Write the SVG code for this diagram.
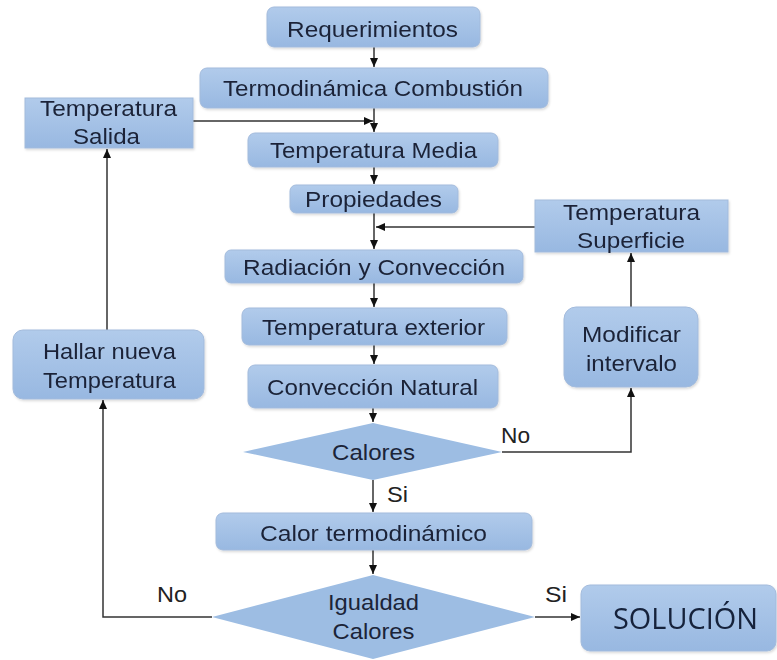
<svg xmlns="http://www.w3.org/2000/svg" width="777" height="660" viewBox="0 0 777 660">
<style>
.box{fill:url(#g);stroke:#a3bbdc;stroke-width:1}
.dia{fill:#9dbde3}
.t{font-family:"Liberation Sans",Arial,sans-serif;font-size:22px;fill:#1b2438;text-anchor:middle}
.lbl{font-family:"Liberation Sans",Arial,sans-serif;font-size:22px;fill:#222;text-anchor:middle}
.sol{font-family:"Open Sans","Liberation Sans",sans-serif;font-size:30px;fill:#14213a;text-anchor:middle}
.c{fill:none;stroke:#333;stroke-width:1.5}
</style>
<defs>
<linearGradient id="g" x1="0" y1="0" x2="0" y2="1">
<stop offset="0" stop-color="#b1cbeb"/>
<stop offset="1" stop-color="#98b8e1"/>
</linearGradient>
<filter id="sh" x="-5%" y="-10%" width="110%" height="130%">
<feDropShadow dx="1" dy="1.5" stdDeviation="1" flood-color="#000" flood-opacity="0.15"/>
</filter>
<marker id="a" markerUnits="userSpaceOnUse" markerWidth="10" markerHeight="10" viewBox="0 0 10 10" refX="9" refY="5" orient="auto">
<path d="M0,1 L9,5 L0,9 Z" fill="#111"/>
</marker>
</defs>

<g id="connectors">
<path class="c" d="M374,47 V67" marker-end="url(#a)"/>
<path class="c" d="M374,108 V132" marker-end="url(#a)"/>
<path class="c" d="M193,121 H373" marker-end="url(#a)"/>
<path class="c" d="M374,167 V184" marker-end="url(#a)"/>
<path class="c" d="M374,213 V249" marker-end="url(#a)"/>
<path class="c" d="M535,227 H376" marker-end="url(#a)"/>
<path class="c" d="M374,283 V307" marker-end="url(#a)"/>
<path class="c" d="M374,345 V364" marker-end="url(#a)"/>
<path class="c" d="M373,408 V422" marker-end="url(#a)"/>
<path class="c" d="M373,480 V512" marker-end="url(#a)"/>
<path class="c" d="M502,452 H631 V388" marker-end="url(#a)"/>
<path class="c" d="M631,307 V253" marker-end="url(#a)"/>
<path class="c" d="M373,550 V574" marker-end="url(#a)"/>
<path class="c" d="M212,617 H103 V400" marker-end="url(#a)"/>
<path class="c" d="M107,330 V149" marker-end="url(#a)"/>
<path class="c" d="M535,617 H580" marker-end="url(#a)"/>
</g>

<g id="requerimientos" filter="url(#sh)">
<rect class="box" x="267" y="7" width="213" height="40" rx="7"/>
<text class="t" x="372.5" y="37" textLength="171" lengthAdjust="spacingAndGlyphs">Requerimientos</text>
</g>
<g id="termodinamica" filter="url(#sh)">
<rect class="box" x="200" y="68" width="348" height="40" rx="7"/>
<text class="t" x="373" y="96" textLength="300" lengthAdjust="spacingAndGlyphs">Termodinámica Combustión</text>
</g>
<g id="temperatura-salida" filter="url(#sh)">
<rect class="box" x="25" y="98" width="168" height="50"/>
<text class="t" x="108.5" y="116" textLength="137" lengthAdjust="spacingAndGlyphs">Temperatura</text>
<text class="t" x="106.5" y="144" textLength="67" lengthAdjust="spacingAndGlyphs">Salida</text>
</g>
<g id="temperatura-media" filter="url(#sh)">
<rect class="box" x="248" y="133" width="250" height="34" rx="7"/>
<text class="t" x="373.5" y="158" textLength="207" lengthAdjust="spacingAndGlyphs">Temperatura Media</text>
</g>
<g id="propiedades" filter="url(#sh)">
<rect class="box" x="290" y="185" width="168" height="28" rx="6"/>
<text class="t" x="373.5" y="207" textLength="137" lengthAdjust="spacingAndGlyphs">Propiedades</text>
</g>
<g id="temperatura-superficie" filter="url(#sh)">
<rect class="box" x="535" y="200" width="193" height="52"/>
<text class="t" x="631.5" y="220" textLength="137" lengthAdjust="spacingAndGlyphs">Temperatura</text>
<text class="t" x="631" y="248" textLength="108" lengthAdjust="spacingAndGlyphs">Superficie</text>
</g>
<g id="radiacion" filter="url(#sh)">
<rect class="box" x="225" y="250" width="298" height="33" rx="6"/>
<text class="t" x="374" y="275" textLength="262" lengthAdjust="spacingAndGlyphs">Radiación y Convección</text>
</g>
<g id="temperatura-exterior" filter="url(#sh)">
<rect class="box" x="242" y="308" width="265" height="37" rx="7"/>
<text class="t" x="373.5" y="335" textLength="223" lengthAdjust="spacingAndGlyphs">Temperatura exterior</text>
</g>
<g id="conveccion-natural" filter="url(#sh)">
<rect class="box" x="248" y="365" width="250" height="43" rx="7"/>
<text class="t" x="372.5" y="395" textLength="211" lengthAdjust="spacingAndGlyphs">Convección Natural</text>
</g>
<g id="modificar-intervalo" filter="url(#sh)">
<rect class="box" x="564" y="307" width="134" height="80" rx="12"/>
<text class="t" x="631.5" y="342" textLength="99" lengthAdjust="spacingAndGlyphs">Modificar</text>
<text class="t" x="631.5" y="371" textLength="91" lengthAdjust="spacingAndGlyphs">intervalo</text>
</g>
<g id="hallar-nueva-temperatura" filter="url(#sh)">
<rect class="box" x="13" y="330" width="191" height="69" rx="10"/>
<text class="t" x="109.5" y="359" textLength="133" lengthAdjust="spacingAndGlyphs">Hallar nueva</text>
<text class="t" x="109.5" y="388" textLength="133" lengthAdjust="spacingAndGlyphs">Temperatura</text>
</g>
<g id="calores">
<polygon class="dia" points="373,423 502,452 373,480 243,452"/>
<text class="t" x="373.5" y="460" textLength="83" lengthAdjust="spacingAndGlyphs">Calores</text>
</g>
<g id="calor-termodinamico" filter="url(#sh)">
<rect class="box" x="216" y="513" width="316" height="37" rx="7"/>
<text class="t" x="373.5" y="541" textLength="227" lengthAdjust="spacingAndGlyphs">Calor termodinámico</text>
</g>
<g id="igualdad-calores">
<polygon class="dia" points="373,575 535,617 373,659 212,617"/>
<text class="t" x="373.5" y="610" textLength="91" lengthAdjust="spacingAndGlyphs">Igualdad</text>
<text class="t" x="373.5" y="639" textLength="82" lengthAdjust="spacingAndGlyphs">Calores</text>
</g>
<g id="solucion" filter="url(#sh)">
<rect class="box" x="581" y="585" width="195" height="66" rx="9"/>
<text class="sol" x="685.5" y="629" textLength="145" lengthAdjust="spacingAndGlyphs">SOLUCIÓN</text>
</g>

<g id="labels">
<text class="lbl" x="515.5" y="443" textLength="29" lengthAdjust="spacingAndGlyphs">No</text>
<text class="lbl" x="397.5" y="502" textLength="21" lengthAdjust="spacingAndGlyphs">Si</text>
<text class="lbl" x="172" y="602" textLength="30" lengthAdjust="spacingAndGlyphs">No</text>
<text class="lbl" x="556" y="602" textLength="22" lengthAdjust="spacingAndGlyphs">Si</text>
</g>
</svg>
